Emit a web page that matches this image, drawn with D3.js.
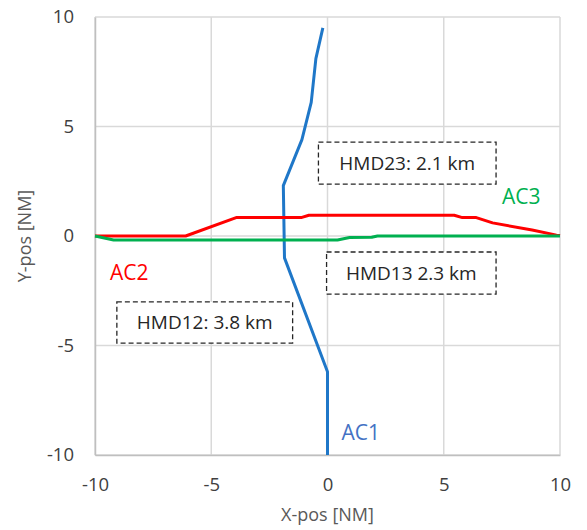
<!DOCTYPE html>
<html><head><meta charset="utf-8">
<script src="https://cdn.jsdelivr.net/npm/d3@7"></script>
<style>body{margin:0;background:#fff}svg{display:block}</style>
</head><body>
<svg id="c" width="587" height="530"></svg>
<script>
const xTicks = [-10, -5, 0, 5, 10];
const yTicks = [-10, -5, 0, 5, 10];
const ac1 = [[0,-10],[0,-6.2],[-1.85,-1.0],[-1.9,2.3],[-1.1,4.4],[-0.7,6.1],[-0.5,8.1],[-0.2,9.5]];
const ac2 = [[-10,0],[-6.1,0],[-3.9,0.85],[-1.1,0.85],[-0.8,0.95],[5.45,0.95],[5.8,0.84],[6.4,0.84],[7.1,0.6],[8.8,0.27],[9.85,0.04],[10,0.02]];
const ac3 = [[-10,0],[-9.2,-0.18],[0.43,-0.18],[0.95,-0.07],[1.9,-0.06],[2.15,0],[10,0]];
const seriesNames = ["AC1","AC2","AC3"];
const seriesColors = ["#1f77c8","#ff0000","#00b050"];
const labelColors = ["#4472c4","#ff0000","#00b050"];
const labelPos = [[0.6,-9.0],[-9.36,-1.69],[7.5,1.78]];
const hmdTexts = ["HMD23: 2.1 km","HMD13 2.3 km","HMD12: 3.8 km"];
const hmdBoxes = [[-0.39,4.29,7.25,2.37],[-0.04,-0.73,7.25,-2.65],[-9.06,-3.01,-1.5,-4.89]];

const svg = d3.select("#c");
const m = {l:95, r:560, t:17, b:455};
const x = d3.scaleLinear().domain([-10,10]).range([m.l,m.r]);
const y = d3.scaleLinear().domain([-10,10]).range([m.b,m.t]);
const font = "'Open Sans', 'Noto Sans', sans-serif";

// grid
svg.append("g").selectAll("line").data(xTicks).join("line")
  .attr("x1",d=>x(d)).attr("x2",d=>x(d)).attr("y1",m.t).attr("y2",m.b)
  .attr("stroke","#d9d9d9").attr("stroke-width",1.5);
svg.append("g").selectAll("line").data(yTicks).join("line")
  .attr("y1",d=>y(d)).attr("y2",d=>y(d)).attr("x1",m.l).attr("x2",m.r)
  .attr("stroke","#d9d9d9").attr("stroke-width",1.5);

// axes
const fmt = d=>String(d);
const xa = svg.append("g").attr("transform",`translate(0,${m.b})`)
  .call(d3.axisBottom(x).tickValues(xTicks).tickFormat(fmt).tickSize(0).tickPadding(22));
const ya = svg.append("g").attr("transform",`translate(${m.l},0)`)
  .call(d3.axisLeft(y).tickValues(yTicks).tickFormat(fmt).tickSize(0).tickPadding(21));
[xa,ya].forEach(a=>{
  a.select(".domain").attr("stroke","#bfbfbf").attr("stroke-width",1.5);
  a.selectAll("text").attr("font-family",font).attr("font-size",18.5).attr("fill","#404040");
});
xa.selectAll("text").attr("dy","0.35em").attr("y",30);

svg.append("text").attr("x",x(0)).attr("y",515).attr("dy","0.35em").attr("text-anchor","middle")
  .attr("font-family",font).attr("font-size",18).attr("fill","#595959").text("X-pos [NM]");
svg.append("text").attr("transform",`translate(25,${y(0)}) rotate(-90)`).attr("dy","0.35em").attr("text-anchor","middle")
  .attr("font-family",font).attr("font-size",18).attr("fill","#595959").text("Y-pos [NM]");

// boxes
hmdBoxes.forEach((b,i)=>{
  svg.append("rect").attr("x",x(b[0])).attr("y",y(b[1]))
    .attr("width",x(b[2])-x(b[0])).attr("height",y(b[3])-y(b[1]))
    .attr("fill","#fff").attr("stroke","#262626").attr("stroke-width",1.3)
    .attr("stroke-dasharray","5,3");
  svg.append("text").attr("x",(x(b[0])+x(b[2]))/2).attr("y",(y(b[1])+y(b[3]))/2)
    .attr("dy","0.35em").attr("text-anchor","middle")
    .attr("font-family",font).attr("font-size",19).attr("fill","#262626").text(hmdTexts[i]);
});

// lines
const line = d3.line().x(d=>x(d[0])).y(d=>y(d[1]));
[ac1,ac2,ac3].forEach((s,i)=>{
  svg.append("path").attr("d",line(s)).attr("fill","none")
    .attr("stroke",seriesColors[i]).attr("stroke-width",3).attr("stroke-linejoin","round");
});
// labels
seriesNames.forEach((n,i)=>{
  svg.append("text").attr("x",x(labelPos[i][0])).attr("y",y(labelPos[i][1]))
    .attr("dy","0.35em").attr("font-family",font).attr("font-size",21)
    .attr("fill",labelColors[i]).text(n);
});
</script>
</body></html>
